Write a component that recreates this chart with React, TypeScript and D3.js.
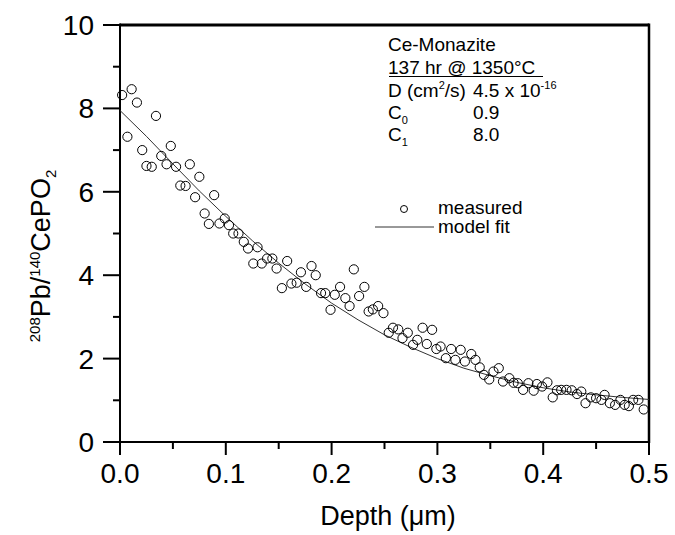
import React from "react";
import * as d3 from "d3";

const depth = [0.002,0.011,0.016,0.034,0.007,0.021,0.048,0.039,0.025,0.030,0.044,0.053,0.066,0.075,0.057,0.062,0.071,0.089,0.080,0.084,0.094,0.099,0.103,0.107,0.112,0.117,0.121,0.130,0.126,0.134,0.139,0.144,0.148,0.158,0.171,0.181,0.185,0.162,0.167,0.153,0.176,0.190,0.194,0.203,0.208,0.213,0.217,0.199,0.221,0.231,0.226,0.235,0.239,0.244,0.249,0.254,0.258,0.263,0.267,0.272,0.277,0.281,0.286,0.295,0.290,0.299,0.303,0.308,0.313,0.317,0.322,0.326,0.332,0.336,0.340,0.344,0.349,0.353,0.358,0.362,0.368,0.372,0.376,0.381,0.386,0.391,0.394,0.399,0.404,0.409,0.413,0.417,0.422,0.427,0.432,0.436,0.440,0.445,0.450,0.455,0.458,0.463,0.468,0.473,0.477,0.481,0.485,0.490,0.495];
const measured = [8.32,8.46,8.14,7.82,7.32,7.0,7.1,6.86,6.62,6.60,6.66,6.60,6.66,6.36,6.15,6.14,5.87,5.92,5.48,5.23,5.24,5.36,5.2,5.0,5.0,4.80,4.64,4.67,4.28,4.28,4.40,4.40,4.16,4.34,4.07,4.22,4.0,3.80,3.82,3.69,3.72,3.57,3.57,3.53,3.72,3.45,3.26,3.17,4.14,3.72,3.50,3.13,3.18,3.26,3.09,2.62,2.74,2.70,2.49,2.62,2.33,2.45,2.74,2.69,2.35,2.23,2.29,2.01,2.23,1.97,2.21,1.93,2.11,1.97,1.79,1.61,1.50,1.69,1.77,1.45,1.53,1.42,1.41,1.25,1.41,1.23,1.39,1.33,1.43,1.07,1.24,1.25,1.25,1.24,1.15,1.21,0.93,1.07,1.05,1.01,1.13,0.93,0.89,1.01,0.89,0.86,1.01,1.01,0.78];

const fitDepth = [0,0.025,0.05,0.075,0.1,0.125,0.15,0.175,0.2,0.225,0.25,0.275,0.3,0.325,0.35,0.375,0.4,0.425,0.45,0.475,0.5];
const fitValue = [7.95,7.33,6.67,6.02,5.41,4.83,4.29,3.79,3.33,2.93,2.57,2.27,2.0,1.77,1.59,1.43,1.30,1.20,1.13,1.07,1.02];

const xMajor = [0, 0.1, 0.2, 0.3, 0.4, 0.5];
const xMinor = [0.05, 0.15, 0.25, 0.35, 0.45];
const yMajor = [0, 2, 4, 6, 8, 10];
const yMinor = [1, 3, 5, 7, 9];

const FONT = "'Liberation Sans', Arial, Helvetica, sans-serif";

export default function App() {
  const W = 675, H = 535;
  const x0 = 120, x1 = 649, y0 = 442, y1 = 25;
  const x = d3.scaleLinear().domain([0, 0.5]).range([x0, x1]);
  const y = d3.scaleLinear().domain([0, 10]).range([y0, y1]);
  const line = d3.line<number>().x((d, i) => x(fitDepth[i])).y((d) => y(d));
  const fitPath = line(fitValue) || "";

  return (
    <svg width={W} height={H} style={{ position: "absolute", left: 0, top: 0, background: "#fff" }} fontFamily={FONT}>
      <rect x={0} y={0} width={W} height={H} fill="#fff" />
      {/* frame */}
      <line x1={x0} x2={x1} y1={y1} y2={y1} stroke="#000" strokeWidth={3} />
      <line x1={x1} x2={x1} y1={y1 - 1.5} y2={y0 + 1} stroke="#000" strokeWidth={2.5} />
      <line x1={x0} x2={x1 + 1} y1={y0} y2={y0} stroke="#000" strokeWidth={2} />
      <line x1={x0} x2={x0} y1={y1 - 1.5} y2={y0 + 1} stroke="#000" strokeWidth={2} />
      {/* x ticks */}
      {xMajor.map((t) => (
        <g key={"xm" + t}>
          <line x1={x(t)} x2={x(t)} y1={y0} y2={y0 + 13} stroke="#000" strokeWidth={2} />
          <text x={x(t)} y={483} textAnchor="middle" fontSize={28}>{t.toFixed(1)}</text>
        </g>
      ))}
      {xMinor.map((t) => (
        <line key={"xn" + t} x1={x(t)} x2={x(t)} y1={y0} y2={y0 + 7} stroke="#000" strokeWidth={2} />
      ))}
      {/* y ticks */}
      {yMajor.map((t) => (
        <g key={"ym" + t}>
          <line x1={x0 - 17} x2={x0} y1={y(t)} y2={y(t)} stroke="#000" strokeWidth={2} />
          <text x={94} y={y(t) + 10} textAnchor="end" fontSize={28}>{t}</text>
        </g>
      ))}
      {yMinor.map((t) => (
        <line key={"yn" + t} x1={x0 - 7} x2={x0} y1={y(t)} y2={y(t)} stroke="#000" strokeWidth={2} />
      ))}
      {/* axis titles */}
      <text x={388} y={525} textAnchor="middle" fontSize={27}>Depth (μm)</text>
      <text transform="translate(50,256) rotate(-90)" textAnchor="middle" fontSize={27}>
        <tspan fontSize={15} dy={-10}>208</tspan>
        <tspan dy={10}>Pb/</tspan>
        <tspan fontSize={15} dy={-10}>140</tspan>
        <tspan dy={10}>CePO</tspan>
        <tspan fontSize={15} dy={6}>2</tspan>
      </text>
      {/* fit line */}
      <path d={fitPath} fill="none" stroke="#333" strokeWidth={1} />
      {/* measured */}
      {depth.map((d, i) => (
        <circle key={i} cx={x(d)} cy={y(measured[i])} r={4.6} fill="none" stroke="#000" strokeWidth={1} />
      ))}
      {/* annotation */}
      <g fontSize={19}>
        <text x={388} y={51}>Ce-Monazite</text>
        <text x={388} y={74}>137 hr @ 1350°C</text>
        <line x1={389} x2={543} y1={76.5} y2={76.5} stroke="#000" strokeWidth={1.2} />
        <text x={388} y={97}>
          D (cm<tspan fontSize={11} dy={-8}>2</tspan><tspan dy={8}>/s)</tspan>
        </text>
        <text x={473} y={97}>
          4.5 x 10<tspan fontSize={11} dy={-8}>-16</tspan>
        </text>
        <text x={388} y={119}>C<tspan fontSize={11} dy={5}>0</tspan></text>
        <text x={473} y={119}>0.9</text>
        <text x={388} y={141}>C<tspan fontSize={11} dy={5}>1</tspan></text>
        <text x={473} y={141}>8.0</text>
        <circle cx={404} cy={209} r={3.5} fill="none" stroke="#000" strokeWidth={1} />
        <text x={438} y={214}>measured</text>
        <line x1={375} x2={434} y1={227} y2={227} stroke="#333" strokeWidth={1} />
        <text x={438} y={233}>model fit</text>
      </g>
    </svg>
  );
}
